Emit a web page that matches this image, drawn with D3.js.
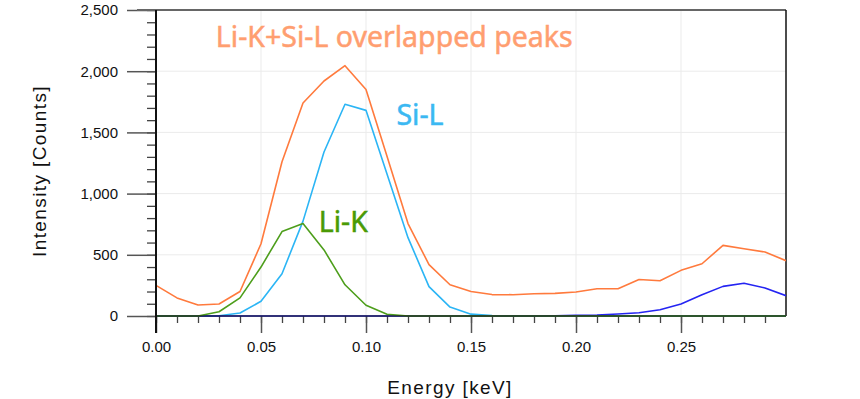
<!DOCTYPE html>
<html>
<head>
<meta charset="utf-8">
<script src="https://cdn.jsdelivr.net/npm/d3@7"></script>
<style>
  body { margin: 0; background: #fff; }
  .tick text { font-family: "Liberation Sans", Arial, sans-serif; font-size: 15px; fill: #111; }
  .axis-title { font-family: "Liberation Sans", Arial, sans-serif; font-size: 19px; letter-spacing: 1.4px; fill: #111; }
  .note { font-family: "Noto Sans", sans-serif; font-size: 28.5px; stroke-width: 0.5px; }
</style>
</head>
<body>
<div class="chart"></div>
<script>
// energy channels (keV)
const energy = [0.00, 0.01, 0.02, 0.03, 0.04, 0.05, 0.06, 0.07, 0.08, 0.09,
                0.10, 0.11, 0.12, 0.13, 0.14, 0.15, 0.16, 0.17, 0.18, 0.19,
                0.20, 0.21, 0.22, 0.23, 0.24, 0.25, 0.26, 0.27, 0.28, 0.29, 0.30];

// measured spectrum (overlapped)
const total = [250, 148, 90, 98, 200, 590, 1260, 1740, 1920, 2045,
               1850, 1305, 755, 420, 255, 200, 175, 174, 182, 185,
               196, 223, 223, 298, 288, 373, 427, 577, 550, 523, 452];

// Si-L component
const siL = [0, 0, 0, 2, 24, 120, 345, 775, 1340, 1730,
             1680, 1160, 640, 240, 73, 15, 4, 1, 0, 0,
             0, 0, 0, 0, 0, 0, 0, 0, 0, 0, 0];

// Li-K component
const liK = [0, 0, 0, 35, 148, 400, 690, 755, 540, 255,
             88, 14, 0, 0, 0, 0, 0, 0, 0, 0,
             0, 0, 0, 0, 0, 0, 0, 0, 0, 0, 0];

// higher energy component
const other = [0, 0, 0, 0, 0, 0, 0, 0, 0, 0,
               0, 0, 0, 0, 0, 0, 0, 0, 0, 2,
               5, 8, 16, 27, 51, 98, 174, 242, 267, 229, 166];

const yTicks = [0, 500, 1000, 1500, 2000, 2500];
const xTicks = [0.00, 0.05, 0.10, 0.15, 0.20, 0.25];

var margin = {top: 10, right: 74, bottom: 83, left: 156};
var width = 860 - margin.left - margin.right,
    height = 399 - margin.top - margin.bottom;

const svg = d3.select(".chart").append("svg")
    .attr("width", 860)
    .attr("height", 399)
    .append("g")
    .attr("transform", "translate(" + margin.left + "," + margin.top + ")");

const xScale = d3.scaleLinear().domain([0, 0.3]).range([0, width]);
const yScale = d3.scaleLinear().domain([0, 2500]).range([height, 0]);

// grid
svg.append("g").selectAll("line")
    .data(xTicks.slice(1))
    .join("line")
    .attr("x1", d => xScale(d)).attr("x2", d => xScale(d))
    .attr("y1", 0).attr("y2", height)
    .attr("stroke", "#ebebeb");
svg.append("g").selectAll("line")
    .data(yTicks.slice(1, -1))
    .join("line")
    .attr("x1", 0).attr("x2", width)
    .attr("y1", d => yScale(d)).attr("y2", d => yScale(d))
    .attr("stroke", "#ebebeb");

// minor ticks
const xMinor = d3.range(0, 30).map(i => i / 100);
const yMinor = d3.range(0, 26).map(i => i * 100);

svg.append("g")
    .attr("transform", `translate(0, ${height})`)
    .call(d3.axisBottom(xScale).tickValues(xMinor).tickSize(7).tickFormat(""))
    .call(g => g.select(".domain").remove())
    .selectAll("line").attr("stroke", "#444").attr("stroke-width", 1.3);

svg.append("g")
    .call(d3.axisLeft(yScale).tickValues(yMinor).tickSize(9).tickFormat(""))
    .call(g => g.select(".domain").remove())
    .selectAll("line").attr("stroke", "#444").attr("stroke-width", 1.3);

// major ticks + labels
const xAxis = d3.axisBottom(xScale).tickValues(xTicks).tickSize(17)
    .tickPadding(8).tickFormat(d3.format(".2f"));
svg.append("g")
    .attr("class", "axis x-axis")
    .attr("transform", `translate(0, ${height})`)
    .call(xAxis)
    .call(g => g.select(".domain").remove())
    .call(g => g.selectAll("line").attr("stroke", "#555").attr("stroke-width", 1.5));

const yAxis = d3.axisLeft(yScale).tickValues(yTicks).tickSize(29)
    .tickPadding(9).tickFormat(d3.format(","));
svg.append("g")
    .attr("class", "axis y-axis")
    .call(yAxis)
    .call(g => g.select(".domain").remove())
    .call(g => g.selectAll("line").attr("stroke", "#555").attr("stroke-width", 1.5));

// frame
svg.append("line")
    .attr("x1", -19).attr("x2", width).attr("y1", 0).attr("y2", 0)
    .attr("stroke", "#666").attr("stroke-width", 2);
svg.append("line")
    .attr("x1", width).attr("x2", width).attr("y1", 0).attr("y2", height)
    .attr("stroke", "#111").attr("stroke-width", 1.5);

// series
const line = d3.line()
    .x((d, i) => xScale(energy[i]))
    .y(d => yScale(d));

const series = [
    {key: "total", values: total, color: "#ff7a3d"},
    {key: "siL", values: siL, color: "#2bb5f5"},
    {key: "other", values: other, color: "#2424f2"},
    {key: "liK", values: liK, color: "#4d9e1b"}
];

svg.append("defs").append("clipPath").attr("id", "plot")
    .append("rect").attr("x", 0).attr("y", -2).attr("width", width).attr("height", height + 4);

svg.append("g").attr("clip-path", "url(#plot)")
    .selectAll("path")
    .data(series, d => d.key)
    .join("path")
    .attr("fill", "none")
    .attr("stroke", d => d.color)
    .attr("stroke-width", 1.6)
    .attr("stroke-linejoin", "round")
    .attr("d", d => line(d.values));

// axis lines on top
svg.append("line")
    .attr("x1", 0).attr("x2", width).attr("y1", height).attr("y2", height)
    .attr("stroke", "#111").attr("stroke-opacity", 0.55).attr("stroke-width", 2);
svg.append("line")
    .attr("x1", 0).attr("x2", 0).attr("y1", 0).attr("y2", height + 17)
    .attr("stroke", "#111").attr("stroke-width", 2);

// annotations
const notes = [
    {text: "Li-K+Si-L overlapped peaks", e: 0.0285, c: 2200, color: "#ff9e70"},
    {text: "Si-L", e: 0.1145, c: 1560, color: "#3bb8f2"},
    {text: "Li-K", e: 0.0775, c: 690, color: "#4a9a05"}
];
svg.selectAll(".note")
    .data(notes)
    .join("text")
    .attr("class", "note")
    .attr("x", d => xScale(d.e))
    .attr("y", d => yScale(d.c))
    .attr("fill", d => d.color)
    .attr("stroke", d => d.color)
    .text(d => d.text);

// axis titles
svg.append("text").attr("class", "axis-title")
    .attr("text-anchor", "middle")
    .attr("x", width / 2 - 21).attr("y", height + 78)
    .text("Energy [keV]");
svg.append("text").attr("class", "axis-title")
    .attr("text-anchor", "middle")
    .attr("transform", `translate(${-110}, ${height / 2 + 8}) rotate(-90)`)
    .text("Intensity [Counts]");
</script>
</body>
</html>
